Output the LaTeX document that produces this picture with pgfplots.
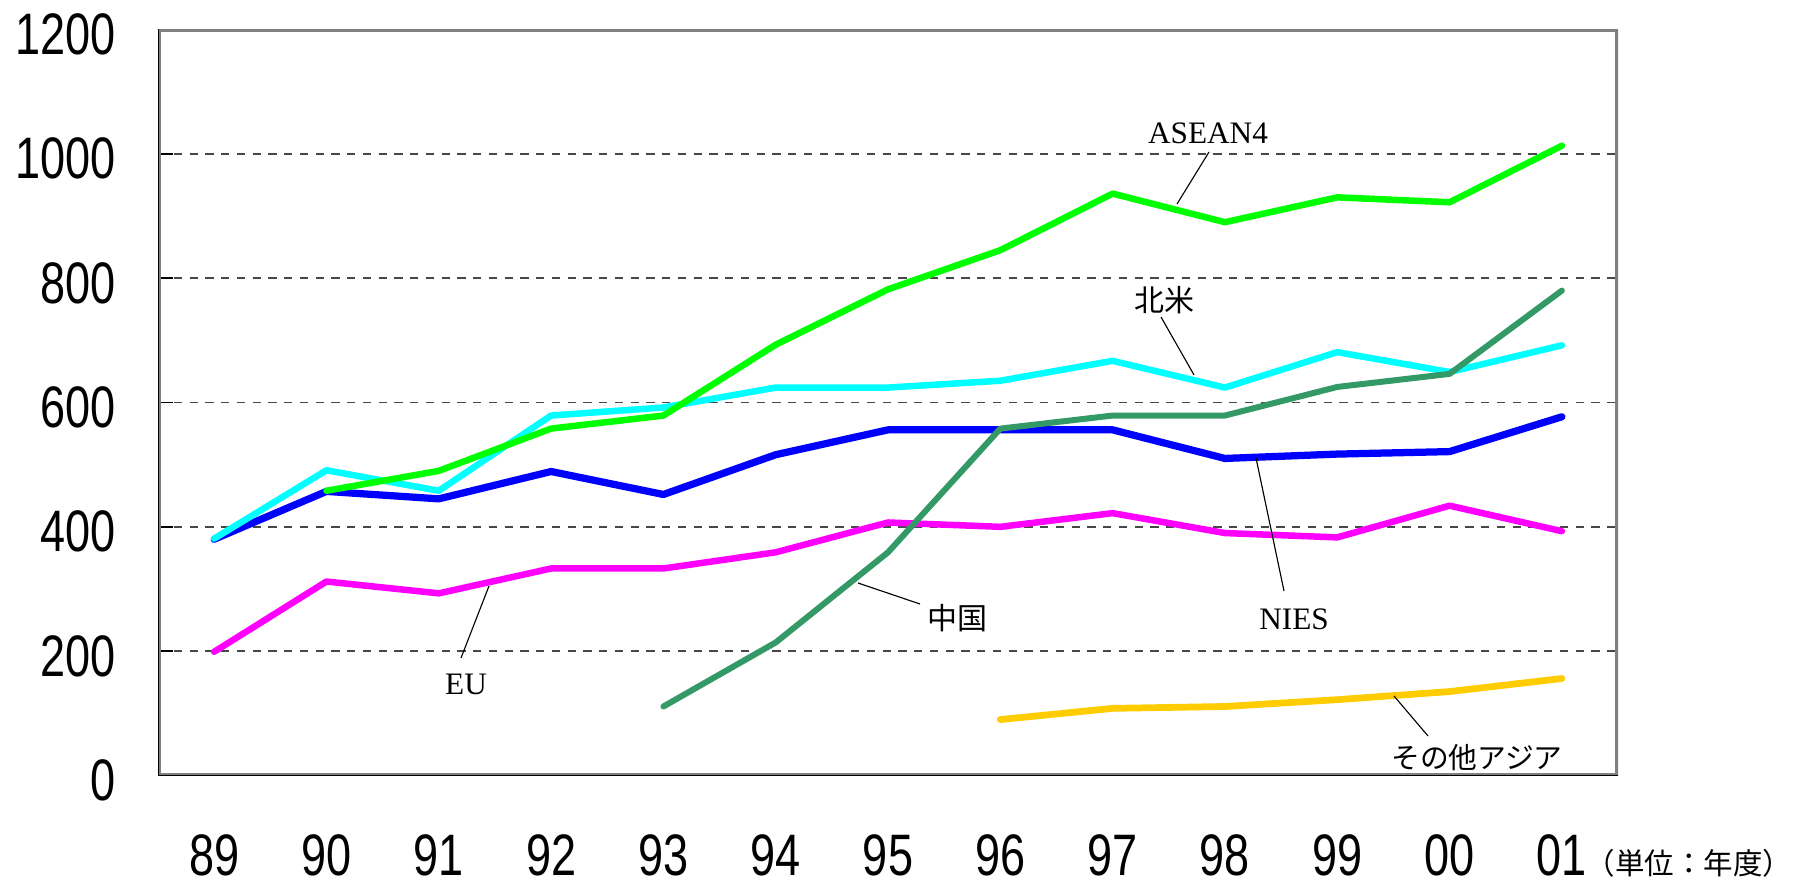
\documentclass[border=0pt]{standalone}
\usepackage{pgfplots}
\pgfplotsset{compat=1.18}
\usepackage{fontspec}
\setmainfont{Liberation Serif}
\newfontfamily\narrowfont{Liberation Sans}[FakeStretch=0.77]
\newfontfamily\cjk{Noto Sans CJK JP}
\definecolor{cAsean}{HTML}{00FF00}
\definecolor{cNA}{HTML}{00FFFF}
\definecolor{cCN}{HTML}{339966}
\definecolor{cNIES}{HTML}{0000FF}
\definecolor{cEU}{HTML}{FF00FF}
\definecolor{cOA}{HTML}{FFCC00}
\definecolor{frameg}{HTML}{808080}

\pgfplotstableread{
x y
0 380
1 457
2 445
3 489
4 452
5 516
6 556
7 556
8 556
9 510
10 517
11 521
12 577
}\nies
\pgfplotstableread{
x y
0 199
1 312
2 293
3 333
4 333
5 359
6 407
7 400
8 422
9 390
10 383
11 434
12 393
}\eu
\pgfplotstableread{
x y
0 381
1 491
2 458
3 579
4 592
5 624
6 624
7 635
8 667
9 624
10 681
11 649
12 692
}\hokubei
\pgfplotstableread{
x y
1 458
2 490
3 558
4 579
5 693
6 782
7 845
8 936
9 890
10 930
11 922
12 1013
}\asean
\pgfplotstableread{
x y
4 111
5 214
6 359
7 558
8 579
9 579
10 625
11 646
12 780
}\china
\pgfplotstableread{
x y
7 90
8 108
9 111
10 122
11 135
12 156
}\otherasia

\begin{document}
\begin{tikzpicture}[x=0.4pt,y=0.4pt]
\path[use as bounding box] (0,0) rectangle (1799,887);
\begin{axis}[
  at={(63.2pt,44.6pt)}, anchor=south west,
  scale only axis, width=584pt, height=298.4pt,
  xmin=-0.5, xmax=12.5, ymin=0, ymax=1200,
  axis line style={draw=none},
  xtick={0,...,12},
  xticklabels={89,90,91,92,93,94,95,96,97,98,99,00,01},
  xtick pos=left,
  x tick style={draw=none},
  extra x ticks={0.5,1.5,...,12.5},
  extra x tick labels={},
  extra x tick style={xtick pos=left, major tick length=8pt, tick style={draw=black, line width=0.5pt}},
  ytick={0,200,400,600,800,1000,1200},
  yticklabels={0,200,400,600,800,1000,1200},
  ytick pos=left,
  major tick length=6pt,
  tick style={black, line width=0.6pt},
  ymajorgrids,
  grid style={black!72, line width=0.6pt, dash pattern=on 3.3pt off 3pt},
  ticklabel style={font=\narrowfont\fontsize{23.4}{28}\selectfont, inner sep=0pt},
  xticklabel style={anchor=center, yshift=-32pt},
  yticklabel style={anchor=east, xshift=-16.8pt, yshift=-2pt},
  every axis plot/.append style={line cap=round, line join=round},
]
\draw[frameg, line width=2.4pt] (axis cs:-0.5,0) rectangle (axis cs:12.5,1200);
\draw[black, line width=0.6pt] (axis cs:-0.5,1200) -- (axis cs:-0.5,0) -- (axis cs:12.5,0);
\addplot[cNIES, line width=2.9pt] table[x=x,y=y] {\nies};
\addplot[cEU, line width=2.6pt] table[x=x,y=y] {\eu};
\addplot[cNA, line width=2.6pt] table[x=x,y=y] {\hokubei};
\addplot[cAsean, line width=2.6pt] table[x=x,y=y] {\asean};
\addplot[cCN, line width=2.4pt] table[x=x,y=y] {\china};
\addplot[cOA, line width=2.7pt] table[x=x,y=y] {\otherasia};
\end{axis}
% annotations
\begin{scope}[every node/.style={inner sep=0pt}]
\node[font=\fontsize{12.5}{14}\selectfont] at (1208,754) {ASEAN4};
\draw[line width=0.45pt] (1209,735) -- (1177,683);
\node[font=\cjk\fontsize{12}{14}\selectfont] at (1164,587) {北米};
\draw[line width=0.45pt] (1161,570) -- (1194,512);
\node[font=\cjk\fontsize{12}{14}\selectfont] at (957,269) {中国};
\draw[line width=0.45pt] (920,283) -- (858,304);
\node[font=\fontsize{12.5}{14}\selectfont] at (1294,268) {NIES};
\draw[line width=0.45pt] (1284,296) -- (1256,429);
\node[font=\fontsize{12.5}{14}\selectfont] at (466,203) {EU};
\draw[line width=0.45pt] (461,229) -- (489,301);
\node[font=\cjk\fontsize{11.5}{14}\selectfont] at (1477,129) {その他アジア};
\draw[line width=0.45pt] (1428,151) -- (1394,191);
\node[font=\cjk\fontsize{11.8}{14}\selectfont, anchor=west] at (1585,24) {（単位：年度）};
\end{scope}
\end{tikzpicture}
\end{document}
